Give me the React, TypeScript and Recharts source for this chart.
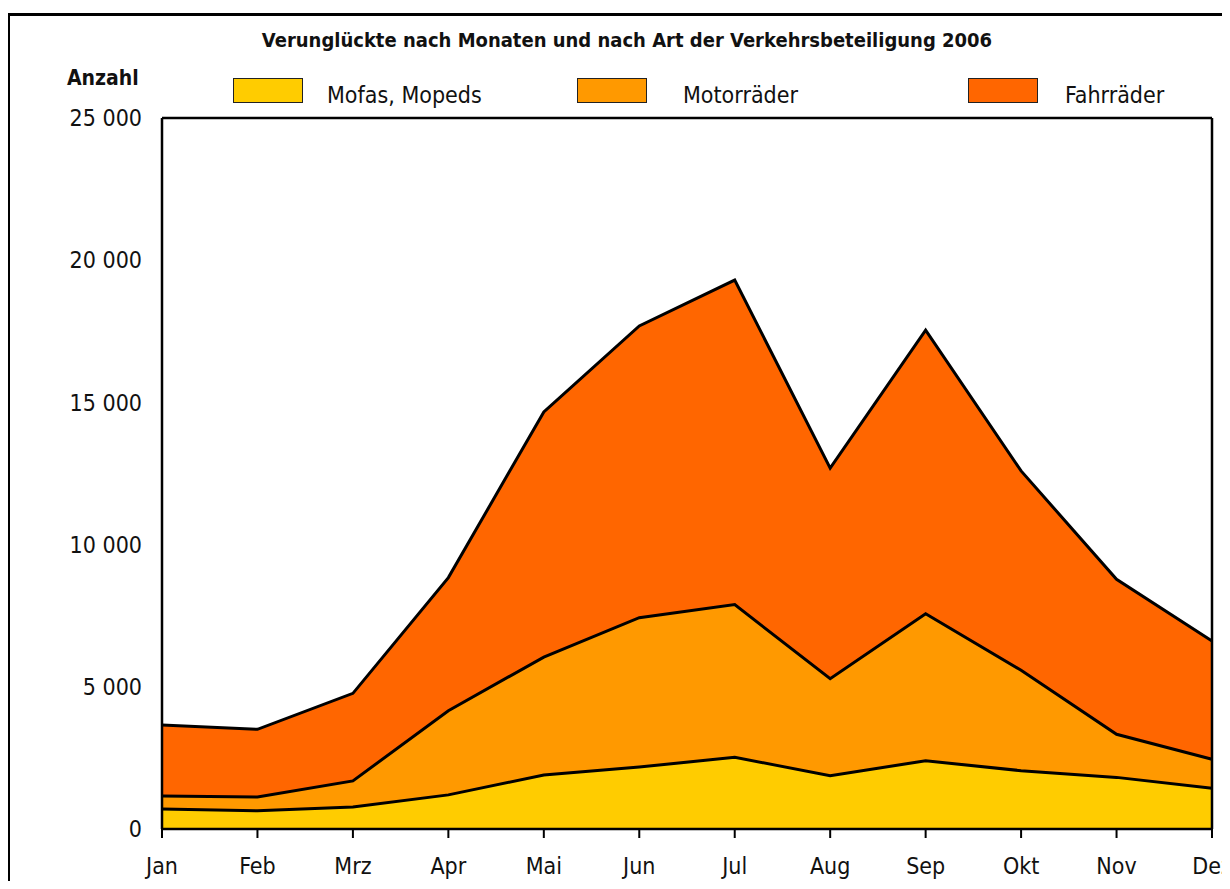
import { AreaChart, Area, XAxis, YAxis, CartesianGrid, ReferenceLine } from 'recharts';

const months = ['Jan', 'Feb', 'Mrz', 'Apr', 'Mai', 'Jun', 'Jul', 'Aug', 'Sep', 'Okt', 'Nov', 'Dez'];
const mofas = [700, 640, 770, 1200, 1900, 2180, 2520, 1875, 2400, 2050, 1815, 1430];
const motorraeder = [460, 485, 920, 2960, 4145, 5250, 5370, 3410, 5170, 3530, 1515, 1020];
const fahrraeder = [2500, 2380, 3080, 4680, 8620, 10260, 11410, 7405, 9970, 7010, 5450, 4160];
const yTicks = [0, 5000, 10000, 15000, 20000, 25000];

const data = months.map((m, i) => ({
  month: m,
  mofas: mofas[i],
  motor: motorraeder[i],
  fahrrad: fahrraeder[i],
}));

const FONT = '"DejaVu Sans Condensed", "Liberation Sans Narrow", "Open Sans", sans-serif';

const legendItems = [
  { label: 'Mofas, Mopeds', color: '#FFCC00', box: 233, text: 327 },
  { label: 'Motorräder', color: '#FF9900', box: 577, text: 683 },
  { label: 'Fahrräder', color: '#FF6600', box: 968, text: 1065 },
];

const series = [
  { key: 'mofas', color: '#FFCC00' },
  { key: 'motor', color: '#FF9900' },
  { key: 'fahrrad', color: '#FF6600' },
];

const fmt = (v: number) => (v === 0 ? '0' : `${Math.floor(v / 1000)} ${String(v % 1000).padStart(3, '0')}`);

export default function App() {
  return (
    <div style={{ position: 'relative', width: 1230, height: 889, margin: -8, overflow: 'hidden', background: '#fff', fontFamily: FONT }}>
      {/* outer frame */}
      <div style={{ position: 'absolute', left: 7, top: 13, width: 1260, height: 920, border: '3px solid #000', boxSizing: 'border-box' }} />

      <div style={{ position: 'absolute', left: 0, top: 28, width: 1254, textAlign: 'center', fontWeight: 'bold', fontSize: 20, color: '#111' }}>
        Verunglückte nach Monaten und nach Art der Verkehrsbeteiligung 2006
      </div>
      <div style={{ position: 'absolute', left: 67, top: 66, fontWeight: 'bold', fontSize: 21, color: '#111' }}>Anzahl</div>

      {legendItems.map((it) => (
        <div key={it.label}>
          <div style={{ position: 'absolute', left: it.box, top: 78, width: 70, height: 25, background: it.color, border: '1.5px solid #222', boxSizing: 'border-box' }} />
          <div style={{ position: 'absolute', left: it.text, top: 82, fontSize: 23, color: '#111' }}>{it.label}</div>
        </div>
      ))}

      <div style={{ position: 'absolute', left: 0, top: 0 }}>
        <AreaChart width={1230} height={889} data={data} margin={{ top: 118, right: 0, bottom: 0, left: 0 }}>
          <CartesianGrid vertical={false} horizontal={true} stroke="#444" strokeDasharray="10 5" strokeWidth={1.2} />
          <XAxis
            dataKey="month"
            height={60}
            axisLine={{ stroke: '#000', strokeWidth: 2.5 }}
            tickLine={{ stroke: '#000', strokeWidth: 2 }}
            tickSize={9}
            interval={0}
            tick={{ fill: '#111', fontSize: 23, fontFamily: FONT }}
            tickMargin={20}
          />
          <YAxis
            yAxisId="left"
            domain={[0, 25000]}
            ticks={yTicks}
            tickFormatter={fmt}
            width={162}
            axisLine={{ stroke: '#000', strokeWidth: 2.5 }}
            tickLine={false}
            tickMargin={14}
            tick={{ fill: '#111', fontSize: 23, fontFamily: FONT }}
            interval={0}
          />
          <YAxis yAxisId="right" orientation="right" domain={[0, 25000]} width={18} tick={false} tickLine={false} axisLine={{ stroke: '#000', strokeWidth: 2.5 }} />
          <ReferenceLine yAxisId="left" y={25000} stroke="#000" strokeWidth={2.5} />
          {series.map((s) => (
            <Area key={s.key} yAxisId="left" type="linear" dataKey={s.key} stackId="fill" fill={s.color} fillOpacity={1} stroke="none" isAnimationActive={false} />
          ))}
          {series.map((s) => (
            <Area key={s.key + '-line'} yAxisId="left" type="linear" dataKey={s.key} stackId="line" fill="none" stroke="#000" strokeWidth={3} isAnimationActive={false} />
          ))}
        </AreaChart>
      </div>
    </div>
  );
}
